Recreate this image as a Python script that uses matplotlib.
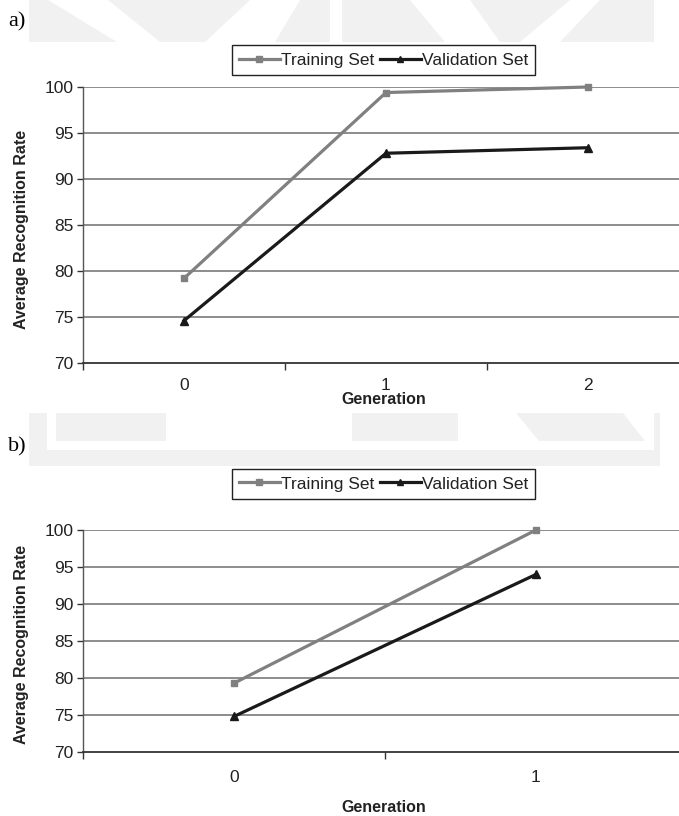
import numpy as np
import matplotlib
matplotlib.use('Agg')
import matplotlib.pyplot as plt
from matplotlib.patches import Polygon

# data
gen_a = ['0', '1', '2']
train_a = [79.2, 99.4, 100.0]
valid_a = [74.6, 92.8, 93.4]

gen_b = ['0', '1']
train_b = [79.3, 100.0]
valid_b = [74.8, 94.0]

y_ticks = [70, 75, 80, 85, 90, 95, 100]
series_names = ['Training Set', 'Validation Set']

sans = ['Liberation Sans', 'DejaVu Sans']

W, H = 679, 816
fig = plt.figure(figsize=(W / 100, H / 100), dpi=100, facecolor='white')


def px(pts):
    # pixel coords (origin top-left) -> figure fraction
    return [(x / W, 1 - y / H) for x, y in pts]


def shape(pts, color):
    fig.patches.append(Polygon(px(pts), closed=True, transform=fig.transFigure,
                               facecolor=color, edgecolor='none', zorder=-10))


# faint watermark behind the charts
wm = '#f1f1f1'
shape([(29, 0), (654, 0), (654, 42), (29, 42)], wm)
shape([(48, 0), (108, 0), (160, 42), (117, 42)], 'white')
shape([(205, 42), (275, 42), (300, 0), (250, 0)], 'white')
shape([(330, 0), (342, 0), (342, 42), (330, 42)], 'white')
shape([(410, 0), (470, 0), (500, 42), (445, 42)], 'white')
shape([(520, 42), (560, 42), (600, 0), (570, 0)], 'white')
shape([(29, 413), (660, 413), (660, 466), (29, 466)], wm)
shape([(47, 413), (654, 413), (654, 450), (47, 450)], 'white')
shape([(56, 413), (166, 413), (166, 441), (56, 441)], wm)
shape([(352, 413), (458, 413), (458, 441), (352, 441)], wm)
shape([(516, 413), (623, 413), (645, 441), (539, 441)], wm)


def panel(top, bottom, width, cats, train, valid, label, label_y, leg_y,
          xlab_y, ylab_y, pad):
    ax = fig.add_axes([83 / W, 1 - bottom / H, width / W, (bottom - top) / H])
    ax.set_facecolor('none')
    x = np.arange(len(cats))
    ax.plot(x, train, color='#808080', lw=2.3, marker='s', ms=5,
            label=series_names[0], zorder=3, clip_on=False)
    ax.plot(x, valid, color='#1a1a1a', lw=2.3, marker='^', ms=6,
            label=series_names[1], zorder=3, clip_on=False)
    ax.set_xlim(-0.5, len(cats) - 0.5)
    ax.set_ylim(70, 100)
    ax.set_yticks(y_ticks)
    ax.set_xticks(x)
    ax.set_xticklabels(cats)
    ax.set_xticks(np.arange(len(cats)) - 0.5, minor=True)
    ax.tick_params(axis='x', which='major', length=0, pad=pad)
    ax.tick_params(axis='x', which='minor', length=5, width=1, direction='out',
                   color='#333333')
    ax.tick_params(axis='y', length=4, width=1, direction='out', color='#333333',
                   pad=3)
    for t in ax.get_xticklabels() + ax.get_yticklabels():
        t.set_family(sans)
        t.set_fontsize(12.5)
        t.set_color('#222222')
    for y in y_ticks[1:]:
        ax.axhline(y, color='#6e6e6e', lw=1.1, zorder=1)
    for s in ['top', 'right']:
        ax.spines[s].set_visible(False)
    ax.spines['left'].set_color('#555555')
    ax.spines['bottom'].set_color('#333333')
    ax.spines['left'].set_linewidth(1)
    ax.spines['bottom'].set_linewidth(1.3)
    fig.text(22 / W, 1 - ylab_y / H, 'Average Recognition Rate', family=sans,
             fontweight='bold', fontsize=11.5, rotation=90, ha='center',
             va='center', color='#222222')
    fig.text(384 / W, 1 - xlab_y / H, 'Generation', family=sans,
             fontweight='bold', fontsize=11.5, ha='center', va='center',
             color='#222222')
    fig.text(8 / W, 1 - label_y / H, label, family=['Liberation Serif'],
             fontsize=16, ha='left', va='center')
    leg = ax.legend(loc='center', bbox_to_anchor=(383.5 / W, 1 - leg_y / H),
                    bbox_transform=fig.transFigure, ncol=2, frameon=True,
                    fancybox=False, handlelength=2.4, handletextpad=0.05,
                    columnspacing=0.3, borderpad=0.4, borderaxespad=0,
                    markerscale=0.8, framealpha=1,
                    prop={'family': sans, 'size': 12.5})
    leg.get_frame().set_edgecolor('#222222')
    leg.get_frame().set_linewidth(1)
    for t in leg.get_texts():
        t.set_color('#222222')
    return ax


panel(87, 363, 606, gen_a, train_a, valid_a, 'a)', 22, 60, 400, 229, 11)
panel(530, 752, 604, gen_b, train_b, valid_b, 'b)', 447, 484, 807, 644, 13)

plt.savefig('out.png', dpi=100, facecolor='white')
